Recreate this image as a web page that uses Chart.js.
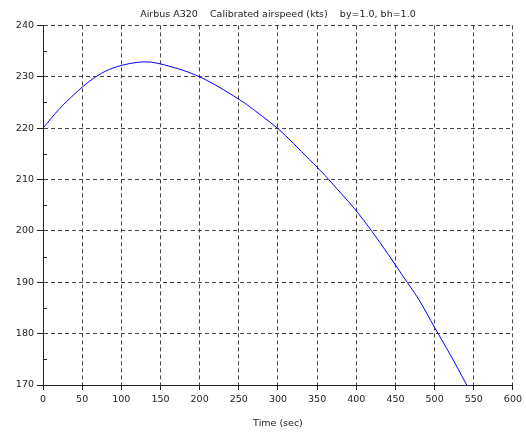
<!DOCTYPE html>
<html>
<head>
<meta charset="utf-8">
<script src="https://cdn.jsdelivr.net/npm/chart.js@4"></script>
<style>
    html, body { margin: 0; padding: 0; background: #fff; }
    #wrap { width: 526px; height: 433px; }
</style>
</head>
<body>
<div id="wrap"><canvas id="grafica"></canvas></div>
<script>
// Tiempo (s) y velocidad calibrada (kts)
const tiempos = [0, 20, 40, 60, 80, 100, 120, 133, 150, 160, 180, 200, 220, 240, 260, 280, 300,
    320, 340, 350, 360, 380, 400, 420, 440, 460, 480, 500, 520, 541];
const velocidades = [220.0, 223.6, 226.6, 229.2, 231.1, 232.2, 232.8, 232.9, 232.5, 232.1, 231.2, 230.0,
    228.4, 226.6, 224.6, 222.3, 219.9, 217.0, 213.9, 212.4, 210.8, 207.4, 203.9, 199.9, 195.6,
    191.1, 186.6, 181.2, 175.9, 170.0];

const titulo = 'Airbus A320    Calibrated airspeed (kts)    by=1.0, bh=1.0';
const tituloX = 'Time (sec)';
const ticksY = [170, 180, 190, 200, 210, 220, 230, 240];
const ticksMenoresY = [175, 185, 195, 205, 215, 225, 235];

const fuente = { family: 'DejaVu Sans, sans-serif', size: 9.5 };
const colorTexto = '#222';

// Marcas menores hacia dentro en el eje Y
const marcasMenores = {
    id: 'marcasMenores',
    afterDraw(chart) {
        const ctx = chart.ctx;
        const y = chart.scales.y;
        const x0 = chart.chartArea.left;
        ctx.save();
        ctx.strokeStyle = '#222';
        ctx.lineWidth = 1;
        ctx.beginPath();
        ticksMenoresY.forEach(v => {
            const py = Math.round(y.getPixelForValue(v)) + 0.5;
            ctx.moveTo(x0, py);
            ctx.lineTo(x0 + 4, py);
        });
        ctx.stroke();
        ctx.restore();
    }
};

const datos = tiempos.map((t, i) => ({ x: t, y: velocidades[i] }));

new Chart(document.getElementById('grafica').getContext('2d'), {
    type: 'line',
    data: {
        datasets: [{
            data: datos,
            borderColor: '#0000ff',
            borderWidth: 1,
            pointRadius: 0,
            cubicInterpolationMode: 'monotone',
            fill: false
        }]
    },
    options: {
        responsive: true,
        maintainAspectRatio: false,
        animation: false,
        layout: { padding: { left: 0, right: 10, top: 0, bottom: 0 } },
        plugins: {
            legend: { display: false },
            tooltip: { enabled: false },
            title: {
                display: true,
                fullSize: false,
                text: titulo,
                color: colorTexto,
                font: { ...fuente, weight: 'normal' },
                padding: { top: 9, bottom: 5 }
            }
        },
        scales: {
            x: {
                type: 'linear',
                min: 0,
                max: 600,
                ticks: { stepSize: 50, color: colorTexto, font: fuente, padding: 4, maxRotation: 0 },
                grid: {
                    color: '#444',
                    tickBorderDash: [],
                    tickColor: '#222',
                    tickLength: 5
                },
                border: { display: true, color: '#222', width: 1, dash: [4, 3] },
                title: { display: true, text: tituloX, color: colorTexto, font: fuente, padding: { top: 4, bottom: 4 } },
                afterFit(scale) { scale.height = 48; }
            },
            y: {
                min: 170,
                max: 240,
                afterBuildTicks(scale) { scale.ticks = ticksY.map(v => ({ value: v })); },
                ticks: { color: colorTexto, font: fuente, padding: 3 },
                grid: {
                    color: '#444',
                    tickBorderDash: [],
                    tickColor: '#222',
                    tickLength: 6
                },
                border: { display: true, color: '#222', width: 1, dash: [4, 3] },
                afterFit(scale) { scale.width = 43; }
            }
        }
    },
    plugins: [marcasMenores]
});
</script>
</body>
</html>
